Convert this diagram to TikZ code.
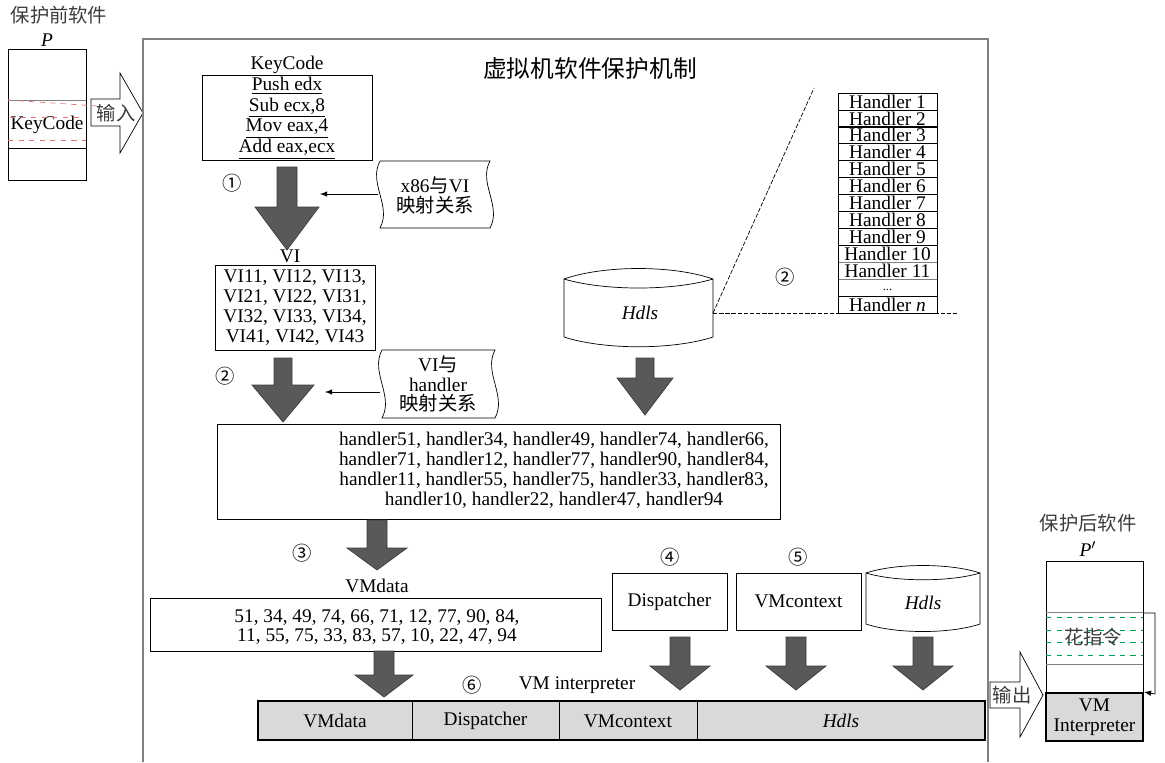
\documentclass[tikz,border=0pt]{standalone}
\usepackage{fontspec}
\setmainfont{Liberation Serif}
\newfontfamily\cjk{Noto Sans CJK SC}
\usepackage{tikz}
\usetikzlibrary{calc, arrows}
\tikzset{>=latex}
\definecolor{mygray1}{RGB}{89, 89, 89}
\definecolor{mygray2}{RGB}{60, 60, 60}
\definecolor{mygray3}{RGB}{217, 217, 217}
\definecolor{mygray4}{RGB}{128, 128, 128}
\definecolor{myred}{RGB}{225, 120, 120}
\definecolor{mygreen}{RGB}{0, 160, 80}
\definecolor{mygreen2}{RGB}{40, 90, 60}
% block arrow: x, top, head start, tip, half shaft, half head
\newcommand{\blockarrow}[6]{%
\filldraw[fill = mygray1, draw = mygray2] (#1-#5,#2) -- (#1+#5,#2) -- (#1+#5,#3) -- (#1+#6,#3) -- (#1,#4) -- (#1-#6,#3) -- (#1-#5,#3) -- cycle;}
\tikzset{txt/.style = {font = \fontsize{11}{11.3}\selectfont, inner sep = 1pt},
  hrow/.style = {draw, minimum width = 1.98cm, minimum height = 0.338cm, inner sep = 0pt,
    font = \fontsize{11}{11}\selectfont}}

\begin{document}
\begin{tikzpicture}[x = 0.02cm, y = -0.02cm, every node/.style = {txt}]
\useasboundingbox (0,0) rectangle (1165,762);
% software before protection
\node[text = mygray2] (before) at (59,15) {\cjk 保护前软件};
\node (p) at (47,40) {\itshape P};
\draw (8,49) rectangle (86,180);
\draw[mygray4] (8,100) -- (86,100);
\draw (8,148) -- (86,148);
\node (kcold) at (47,125) {KeyCode};
\draw[fill = white] (91,99) -- (120,99) -- (120,73) -- (143,113) -- (120,153) -- (120,126) -- (91,126) -- cycle;
\draw[myred, dashed] (8,100) -- (97,106);
\draw[myred, dashed] (10,117) -- (82,117);
\draw[myred, dashed] (8,140) -- (86,140);
\node[text = mygray2] (in) at (116,113) {\cjk 输入};
% frame
\draw[mygray4, line width = 0.8pt] (143,762) -- (143,39) -- (988,39) -- (988,762);
\node (title) at (590,68) {\fontsize{13.5}{14}\selectfont\cjk 虚拟机软件保护机制};
% KeyCode
\node (kclabel) at (287,65) {KeyCode};
\node[draw, minimum width = 3.4cm, minimum height = 1.6cm, align = center,
  font = \fontsize{11}{11.8}\selectfont] (kc) at (287,118)
  {\underline{Push edx}\\\underline{Sub ecx,8}\\\underline{Mov eax,4}\\\underline{Add eax,ecx}};
\blockarrow{287}{167}{207}{250}{10}{32}
\node (n1) at (232,183) {\cjk ①};
\draw[fill = white] (380,161) -- (490,161) .. controls (478,183) and (502,206) .. (490,228)
  -- (380,228) .. controls (392,206) and (368,183) .. (380,161);
\node[align = center] (map1) at (435,195) {x86{\cjk 与}VI\\{\cjk 映射关系}};
\coordinate (map1w) at (378,194);
\coordinate (a1) at (320,194);
\draw[->] (map1w) -- (a1);
% VI
\node (vilabel) at (290,256) {VI};
\node[draw, minimum width = 3.2cm, minimum height = 1.7cm, align = center] (vi) at (295,307.5)
  {VI11, VI12, VI13,\\VI21, VI22, VI31,\\VI32, VI33, VI34,\\VI41, VI42, VI43};
\blockarrow{283}{358}{385}{422}{9}{31}
\node (n2) at (225,376) {\cjk ②};
\draw[fill = white] (382,350) -- (495,350) .. controls (483,372) and (507,396) .. (495,418)
  -- (382,418) .. controls (394,396) and (370,372) .. (382,350);
\node[align = center] (map2) at (438,384) {VI{\cjk 与}\\handler\\{\cjk 映射关系}};
\coordinate (map2w) at (380,392);
\coordinate (a2) at (325,392);
\draw[->] (map2w) -- (a2);
% Hdls and handler table
\draw[fill = white] (564,279) .. controls (604,265) and (673,265) .. (713,279) -- (713,337)
  .. controls (673,350) and (604,350) .. (564,337) -- cycle;
\draw (564,279) .. controls (604,291) and (673,291) .. (713,279);
\node (hdls) at (640,313) {\itshape Hdls};
\blockarrow{645}{358}{378}{415}{9}{28}
\coordinate (hdlse) at (713,313);
\coordinate (d1) at (958,313);
\coordinate (d2) at (814,88);
\draw[dash pattern = on 2.5pt off 1pt] (hdlse) -- (d1);
\draw[dash pattern = on 2.5pt off 1pt] (hdlse) -- (d2);
\foreach \i in {1,...,10}
  \node[hrow] (h\i) at (887.5,{93+(\i-0.5)*16.92}) {Handler \i};
\node[hrow, draw = mygray4] (h11) at (887.5,{93+10.5*16.92}) {Handler 11};
\draw[mygreen2] (838,{93+11*16.92}) -- (838,{93+12*16.92});
\draw[mygreen2] (937,{93+11*16.92}) -- (937,{93+12*16.92});
\node[inner sep = 0pt, font = \fontsize{7}{7}\selectfont] (hdots) at (887.5,290) {...};
\node[hrow] (hn) at (887.5,{93+12.5*16.92}) {Handler \textit{n}};
\draw (838,93) rectangle (937,313);
\node (n2b) at (785,277) {\cjk ②};
% handler sequence
\node[draw, minimum width = 11.26cm, minimum height = 1.9cm] (hbox) at (498.5,471.5) {};
\node[align = center] (hseq) at (554,470) {handler51, handler34, handler49, handler74, handler66,\\
  handler71, handler12, handler77, handler90, handler84,\\
  handler11, handler55, handler75, handler33, handler83,\\
  handler10, handler22, handler47, handler94};
\blockarrow{377}{520}{548}{570}{10}{30}
\node (n3) at (302,553) {\cjk ③};
\node (vmdlabel) at (377,586) {VMdata};
\node[draw, minimum width = 9.02cm, minimum height = 1.06cm] (vmd) at (375.5,624.5) {};
\node[align = center] (vmdseq) at (377,627) {51, 34, 49, 74, 66, 71, 12, 77, 90, 84,\\
  11, 55, 75, 33, 83, 57, 10, 22, 47, 94};
\blockarrow{384}{651}{675}{697}{10}{29}
% components
\node (n4) at (670,557) {\cjk ④};
\node (n5) at (798,557) {\cjk ⑤};
\node[draw, minimum width = 2.3cm, minimum height = 1.14cm] (disp) at (669.5,601.5) {Dispatcher};
\node[draw, minimum width = 2.5cm, minimum height = 1.14cm] (ctx) at (798.5,601.5) {VMcontext};
\draw[fill = white] (866,573) .. controls (896,563) and (950,563) .. (980,573) -- (980,624)
  .. controls (950,634) and (896,634) .. (866,624) -- cycle;
\draw (866,573) .. controls (896,582) and (950,582) .. (980,573);
\node (hdls2) at (923,603) {\itshape Hdls};
\blockarrow{680}{637}{666}{690}{10}{30}
\blockarrow{796}{637}{666}{690}{10}{30}
\blockarrow{923}{637}{666}{690}{10}{30}
% VM interpreter
\node (n6) at (472,685) {\cjk ⑥};
\node (vmi) at (577,685) {VM interpreter};
\draw[fill = mygray3, line width = 1.2pt] (258,701) rectangle (985,740);
\draw (412,701) -- (412,740);
\draw (559,701) -- (559,740);
\draw (697,701) -- (697,740);
\node (b1) at (335,721) {VMdata};
\node (b2) at (485.5,721) {Dispatcher};
\node (b3) at (628,721) {VMcontext};
\node (b4) at (841,721) {\itshape Hdls};
% software after protection
\node[text = mygray2] (after) at (1088,523) {\cjk 保护后软件};
\node (pp) at (1088,549) {\itshape P$'$};
\draw (1046,561) rectangle (1143,741);
\draw[mygray4] (1046,612) -- (1143,612);
\draw[mygray4] (1046,664) -- (1143,664);
\draw[mygreen, dashed] (1046,617) -- (1143,617);
\draw[mygreen, dashed] (1046,630) -- (1143,630);
\draw[mygreen, dashed] (1046,642) -- (1143,642);
\draw[mygreen, dashed] (1046,655) -- (1143,655);
\node[text = mygray2] (flower) at (1093,637) {\cjk 花指令};
\node[draw, fill = mygray3, line width = 1.2pt, minimum width = 1.94cm, minimum height = 0.96cm, align = center]
  (vmi2) at (1094.5,717) {VM\\Interpreter};
\coordinate (loop1) at (1143,613);
\coordinate (loop2) at (1155,613);
\coordinate (loop3) at (1155,694);
\draw[->] (loop1) -- (loop2) -- (loop3) -- (vmi2.north east);
\draw[fill = white] (990,682) -- (1020,682) -- (1020,652) -- (1043,695) -- (1020,737) -- (1020,708) -- (990,708) -- cycle;
\node[text = mygray2] (out) at (1012,695) {\cjk 输出};
\end{tikzpicture}
\end{document}
